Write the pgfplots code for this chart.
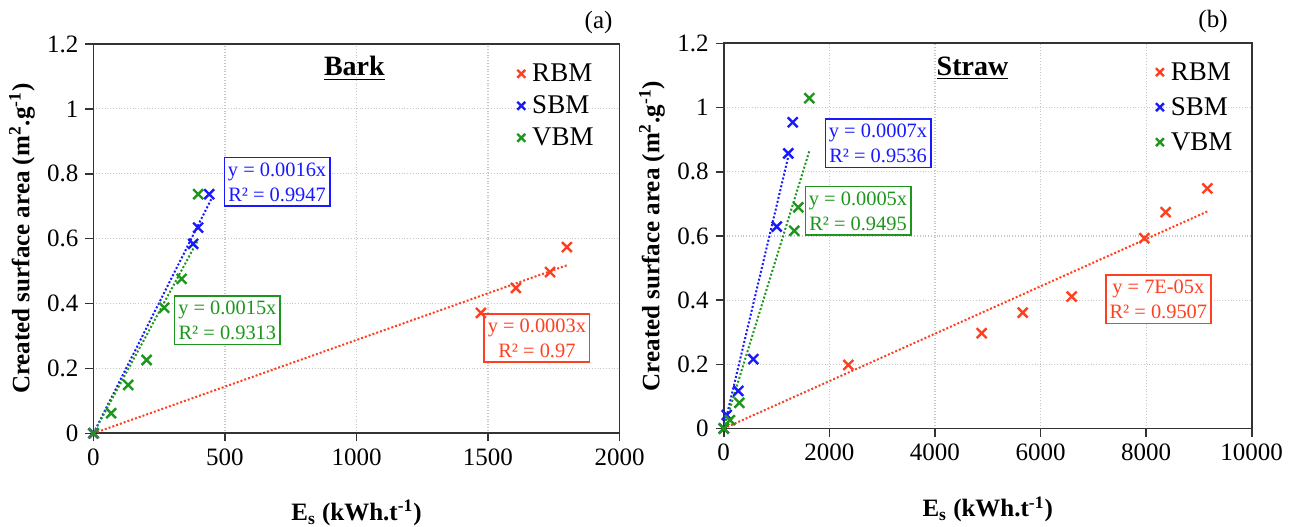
\documentclass[border=0pt]{standalone}
\usepackage{pgfplots}
\pgfplotsset{compat=1.18}
\usepackage{fontspec}
\setmainfont{Liberation Serif}
\definecolor{cR}{RGB}{255,64,32}
\definecolor{cB}{RGB}{25,25,255}
\definecolor{cG}{RGB}{30,150,30}
\tikzset{
 eqbox/.style={draw=#1, text=#1, fill=white, line width=0.8pt, align=center, inner xsep=1.8pt, inner ysep=2.4pt,
   font=\fontsize{10.2}{12.5}\selectfont},
}
\begin{document}
\begin{tikzpicture}
\path[use as bounding box] (-46.75pt,-46.35pt) rectangle (603.75pt,216.65pt);
\pgfplotsset{
 mystyle/.style={
  scale only axis,
  anchor=south west,
  axis line style={draw=black!80, line width=0.9pt},
  tick style={draw=black!80, line width=0.8pt},
  tick align=outside, major tick length=4pt,
  xtick pos=bottom, ytick pos=left,
  grid=major, grid style={densely dotted, draw=black!22, line width=0.6pt},
  ymin=0, ymax=1.2, ytick={0,0.2,0.4,0.6,0.8,1,1.2},
  yticklabels={0,0.2,0.4,0.6,0.8,1,1.2},
  scaled x ticks=false,
  tick label style={font=\fontsize{12.5}{14}\selectfont},
  /pgf/number format/assume math mode=true,
  /pgf/number format/1000 sep={},
  label style={font=\bfseries\fontsize{12.5}{14}\selectfont},
  ylabel={Created surface area (m\textsuperscript{2}.g\textsuperscript{-1})},
  xlabel={E\textsubscript{s} (kWh.t\textsuperscript{-1})},
  clip=false,
  legend style={draw=none, fill=none, font=\fontsize{13.5}{15}\selectfont, inner sep=0pt, column sep=1.5pt,
    cells={anchor=west, inner sep=0.5pt, text height=9.5pt, text depth=0pt}},
  legend image code/.code={\draw[##1, mark size=2.8pt] plot coordinates {(0pt,0pt)};},
 },
 mpt/.style={only marks, mark=x, mark size=3.5pt, line width=1.2pt, mark options={solid}},
 mtl/.style={dash pattern=on 1pt off 1pt, line width=1pt, forget plot},
}
% ---------------- (a) Bark ----------------
\begin{axis}[mystyle, at={(0pt,0pt)}, width=263pt, height=194.65pt,
  xmin=0, xmax=2000, xtick={0,500,1000,1500,2000},
  ylabel style={at={(axis description cs:-0.136,0.5)}, anchor=center},
  xlabel style={at={(axis description cs:0.5,-0.205)}, anchor=center},
  legend style={at={(axis description cs:0.805,0.963)}, anchor=north west, row sep=1pt}]
\addplot[mpt, color=cR] coordinates {(0,0) (1473,0.371) (1606,0.448) (1736,0.497) (1800,0.574)};
\addlegendentry{RBM}
\addplot[mpt, color=cB] coordinates {(0,0) (379,0.584) (398,0.634) (440,0.737)};
\addlegendentry{SBM}
\addplot[mpt, color=cG] coordinates {(0,0) (67,0.062) (132,0.149) (202,0.226) (269,0.387) (335,0.476) (398,0.737)};
\addlegendentry{VBM}
\addplot[mtl, color=cR] coordinates {(0,0) (1804,0.519)};
\addplot[mtl, color=cB] coordinates {(0,0) (449,0.724)};
\addplot[mtl, color=cG] coordinates {(0,0) (398,0.597)};
\node[font=\bfseries\fontsize{14}{16}\selectfont] at (axis cs:992,1.125) {\underline{Bark}};
\node[eqbox=cB] at (axis cs:698,0.775) {y = 0.0016x\\R² = 0.9947};
\node[eqbox=cG] at (axis cs:509,0.348) {y = 0.0015x\\R² = 0.9313};
\node[eqbox=cR] at (axis cs:1686,0.294) {y = 0.0003x\\R² = 0.97};
\node[font=\fontsize{12.5}{14}\selectfont, anchor=base east] at ([yshift=8pt]rel axis cs:1,1) {(a)};
\end{axis}
% ---------------- (b) Straw ----------------
\begin{axis}[mystyle, at={(315.1pt,2.4pt)}, width=264pt, height=192.6pt,
  xmin=0, xmax=10000, xtick={0,2000,4000,6000,8000,10000},
  ylabel style={at={(axis description cs:-0.136,0.5)}, anchor=center},
  xlabel style={at={(axis description cs:0.5,-0.21)}, anchor=center},
  legend style={at={(axis description cs:0.818,0.965)}, anchor=north west, row sep=2.5pt}]
\addplot[mpt, color=cR] coordinates {(0,0) (2360,0.198) (4886,0.297) (5663,0.361) (6591,0.411) (7966,0.593) (8371,0.674) (9159,0.748)};
\addlegendentry{RBM}
\addplot[mpt, color=cB] coordinates {(0,0) (57,0.042) (277,0.117) (561,0.216) (1004,0.629) (1223,0.857) (1307,0.954)};
\addlegendentry{SBM}
\addplot[mpt, color=cG] coordinates {(0,0) (119,0.026) (295,0.080) (1337,0.616) (1413,0.689) (1621,1.029)};
\addlegendentry{VBM}
\addplot[mtl, color=cR] coordinates {(0,0) (9159,0.676)};
\addplot[mtl, color=cB] coordinates {(0,0) (1223,0.847)};
\addplot[mtl, color=cG] coordinates {(0,0) (1621,0.864)};
\node[font=\bfseries\fontsize{14}{16}\selectfont] at (axis cs:4712,1.122) {\underline{Straw}};
\node[eqbox=cB] at (axis cs:2923,0.888) {y = 0.0007x\\R² = 0.9536};
\node[eqbox=cG] at (axis cs:2544,0.678) {y = 0.0005x\\R² = 0.9495};
\node[eqbox=cR] at (axis cs:8232,0.403) {y = 7E-05x\\R² = 0.9507};
\node[font=\fontsize{12.5}{14}\selectfont, anchor=base east] at ([yshift=8pt, xshift=-8.5pt]rel axis cs:1,1) {(b)};
\end{axis}
\end{tikzpicture}
\end{document}
